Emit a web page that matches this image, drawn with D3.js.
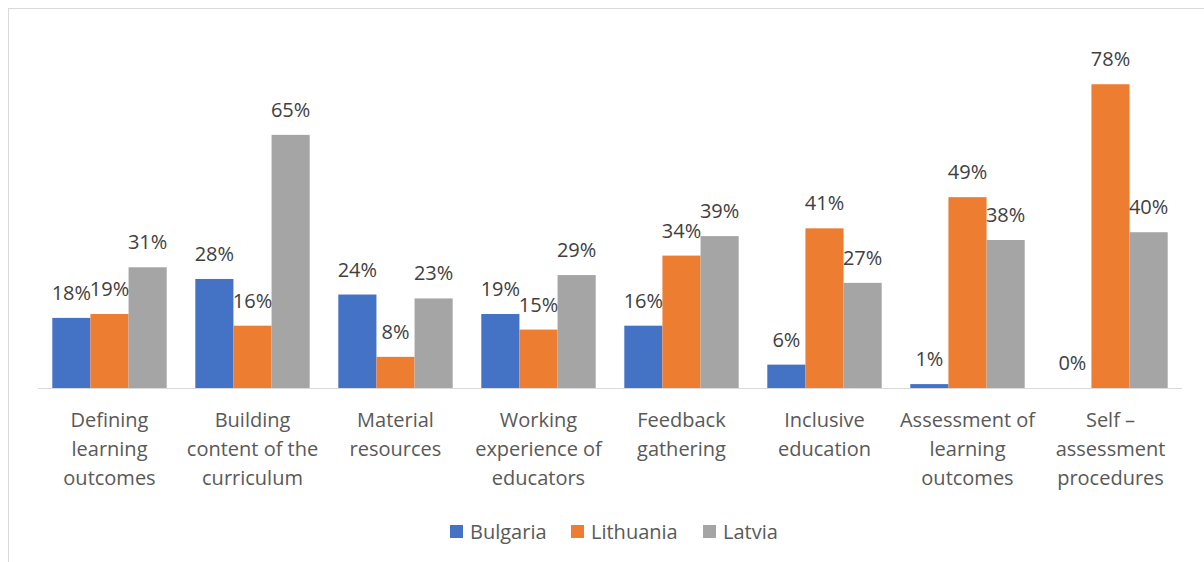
<!DOCTYPE html>
<html>
<head>
<meta charset="utf-8">
<script src="https://cdn.jsdelivr.net/npm/d3@7"></script>
<style>
  body { margin: 0; background: #fff; }
  svg { display: block; font-family: "Open Sans", sans-serif; }
</style>
</head>
<body>
<svg id="chart" width="1204" height="562"></svg>
<script>
// Data
const categories = [
  ['Defining', 'learning', 'outcomes'],
  ['Building', 'content of the', 'curriculum'],
  ['Material', 'resources'],
  ['Working', 'experience of', 'educators'],
  ['Feedback', 'gathering'],
  ['Inclusive', 'education'],
  ['Assessment of', 'learning', 'outcomes'],
  ['Self \u2013', 'assessment', 'procedures']
];
const seriesNames = ['Bulgaria', 'Lithuania', 'Latvia'];
const bulgaria = [0.18, 0.28, 0.24, 0.19, 0.16, 0.06, 0.01, 0.00];
const lithuania = [0.19, 0.16, 0.08, 0.15, 0.34, 0.41, 0.49, 0.78];
const latvia = [0.31, 0.65, 0.23, 0.29, 0.39, 0.27, 0.38, 0.40];
const colors = ['#4472C4', '#ED7D31', '#A5A5A5'];

const series = [bulgaria, lithuania, latvia];

let svg = d3.select('#chart');

// chart border (Excel frame)
svg.append('rect')
  .attr('x', 8.5).attr('y', 8.5)
  .attr('width', 1204).attr('height', 562)
  .attr('fill', 'none')
  .attr('stroke', '#d9d9d9')
  .attr('stroke-width', 1);

// Scales
let x0 = d3.scaleBand()
  .domain(d3.range(categories.length))
  .range([38, 1182])
  .paddingInner(0.2)
  .paddingOuter(0.1);

let x1 = d3.scaleBand()
  .domain(d3.range(seriesNames.length))
  .range([0, x0.bandwidth()]);

let y = d3.scaleLinear()
  .domain([0, 0.9])
  .range([388, 37.5]);

// Bars
let groups = svg.selectAll('.cat')
  .data(categories)
  .enter()
  .append('g')
  .attr('class', 'cat')
  .attr('transform', (d, i) => `translate(${x0(i)},0)`);

groups.each(function(d, ci) {
  let g = d3.select(this);
  series.forEach((vals, si) => {
    g.append('rect')
      .attr('x', x1(si))
      .attr('y', y(vals[ci]))
      .attr('width', x1.bandwidth())
      .attr('height', y(0) - y(vals[ci]))
      .attr('fill', colors[si]);
  });
});

// Baseline
svg.append('line')
  .attr('x1', 38).attr('x2', 1182)
  .attr('y1', y(0) + 0.5).attr('y2', y(0) + 0.5)
  .attr('stroke', '#d9d9d9')
  .attr('stroke-width', 1);

// Data labels (drawn after bars so overlaps look like the original)
groups.each(function(d, ci) {
  let g = d3.select(this);
  series.forEach((vals, si) => {
    g.append('text')
      .attr('x', x1(si) + x1.bandwidth() / 2)
      .attr('y', y(vals[ci]) - 18)
      .attr('text-anchor', 'middle')
      .attr('font-size', 20)
      .attr('fill', '#404040')
      .text(d3.format('.0%')(vals[ci]));
  });
});

// Category labels
groups.append('text')
  .attr('text-anchor', 'middle')
  .attr('font-size', 20)
  .attr('fill', '#595959')
  .selectAll('tspan')
  .data(d => d)
  .enter()
  .append('tspan')
  .attr('x', x0.bandwidth() / 2)
  .attr('y', (d, i) => 427 + i * 28.8)
  .text(d => d);

// Legend
const legendX = [450, 571, 703];
let legend = svg.append('g').attr('class', 'legend');
seriesNames.forEach((name, i) => {
  legend.append('rect')
    .attr('x', legendX[i])
    .attr('y', 525)
    .attr('width', 13)
    .attr('height', 13)
    .attr('fill', colors[i]);
  legend.append('text')
    .attr('x', legendX[i] + 20)
    .attr('y', 538.5)
    .attr('font-size', 20)
    .attr('fill', '#595959')
    .text(name);
});
</script>
</body>
</html>
